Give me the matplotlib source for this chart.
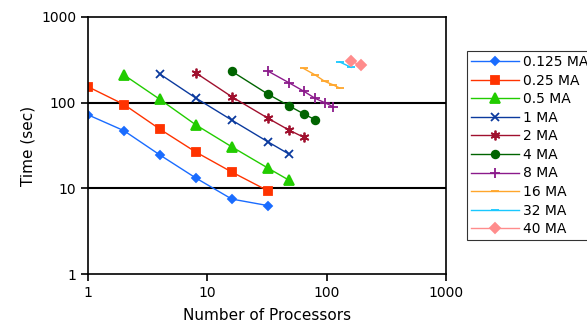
import matplotlib
matplotlib.use("Agg")
import matplotlib.pyplot as plt
from matplotlib.ticker import FixedLocator, NullLocator, FixedFormatter

# series: processors vs time (sec)
labels = ["0.125 MA", "0.25 MA", "0.5 MA", "1 MA", "2 MA",
          "4 MA", "8 MA", "16 MA", "32 MA", "40 MA"]

p_0125 = [1, 2, 4, 8, 16, 32]
t_0125 = [72, 47, 24.5, 13.2, 7.5, 6.3]
p_025 = [1, 2, 4, 8, 16, 32]
t_025 = [153, 95, 49, 26.5, 15.5, 9.4]
p_05 = [2, 4, 8, 16, 32, 48]
t_05 = [210, 109, 55, 30.5, 17.3, 12.5]
p_1 = [4, 8, 16, 32, 48]
t_1 = [215, 113, 62.5, 35, 25.2]
p_2 = [8, 16, 32, 48, 64]
t_2 = [222, 117, 66, 48, 39.5]
p_4 = [16, 32, 48, 64, 80]
t_4 = [232, 126, 92, 74, 63]
p_8 = [32, 48, 64, 80, 96, 112]
t_8 = [234, 171, 136, 112, 100, 90]
p_16 = [64, 80, 96, 112, 128]
t_16 = [250, 210, 177, 162, 148]
p_32 = [128, 160]
t_32 = [298, 258]
p_40 = [160, 192]
t_40 = [306, 272]

series = [(p_0125, t_0125), (p_025, t_025), (p_05, t_05), (p_1, t_1),
          (p_2, t_2), (p_4, t_4), (p_8, t_8), (p_16, t_16),
          (p_32, t_32), (p_40, t_40)]

colors = ["#1a6cff", "#ff3300", "#22cc00", "#0b3a9e", "#a0102e",
          "#006400", "#8b1a8b", "#ffa62b", "#19c8ff", "#ff8c8c"]
markers = ["D", "s", "^", "x", (6, 2, 0), "o", "+", "_", "_", "D"]
msizes = [4.5, 5.5, 6.5, 6, 7, 5.5, 7, 6, 6, 5.5]

fig = plt.figure(figsize=(5.87, 3.24), dpi=100)
ax = fig.add_axes([0.15, 0.154, 0.61, 0.794])

for (x, y), lab, c, m, ms in zip(series, labels, colors, markers, msizes):
    ax.plot(x, y, color=c, marker=m, markersize=ms, markeredgewidth=1.3,
            linewidth=1.0, label=lab)

ax.set_xscale("log")
ax.set_yscale("log")
ax.set_xlim(1, 1000)
ax.set_ylim(1, 1000)

ticks = [1, 10, 100, 1000]
tick_labels = ["1", "10", "100", "1000"]
ax.xaxis.set_major_locator(FixedLocator(ticks))
ax.xaxis.set_major_formatter(FixedFormatter(tick_labels))
ax.yaxis.set_major_locator(FixedLocator(ticks))
ax.yaxis.set_major_formatter(FixedFormatter(tick_labels))
ax.xaxis.set_minor_locator(NullLocator())
ax.yaxis.set_minor_locator(NullLocator())
ax.tick_params(axis="both", labelsize=10, length=5, width=1.2, color="black")

for y in [10, 100]:
    ax.axhline(y, color="black", linewidth=1.5, zorder=0)
for s in ax.spines.values():
    s.set_linewidth(1.2)
    s.set_color("black")

ax.set_xlabel("Number of Processors", fontsize=11, labelpad=6)
ax.set_ylabel("Time (sec)", fontsize=11)

leg = ax.legend(loc="upper left", bbox_to_anchor=(1.059, 0.868), fontsize=10,
                frameon=True, fancybox=False, edgecolor="black",
                labelspacing=0.33, handlelength=3.4, borderpad=0.3,
                handletextpad=0.3, borderaxespad=0)
leg.get_frame().set_linewidth(0.8)

plt.savefig("out.png", dpi=100)
